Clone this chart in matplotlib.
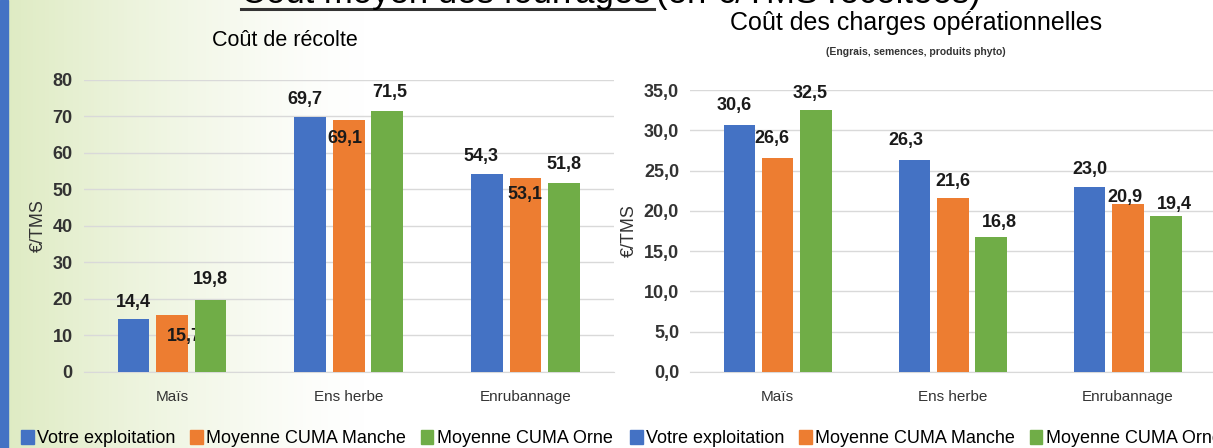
import numpy as np
import matplotlib
matplotlib.use("Agg")
import matplotlib.pyplot as plt
from matplotlib.patches import Rectangle
from matplotlib.lines import Line2D

plt.rcParams['font.family'] = ['Liberation Sans', 'DejaVu Sans']

# data
categories = ["Maïs", "Ens herbe", "Enrubannage"]
series = ["Votre exploitation", "Moyenne CUMA Manche", "Moyenne CUMA Orne"]
recolte_votre = [14.4, 69.7, 54.3]
recolte_manche = [15.7, 69.1, 53.1]
recolte_orne = [19.8, 71.5, 51.8]
charges_votre = [30.6, 26.3, 23.0]
charges_manche = [26.6, 21.6, 20.9]
charges_orne = [32.5, 16.8, 19.4]
colors = ["#4472C4", "#ED7D31", "#70AD47"]

fig = plt.figure(figsize=(12.13, 4.48), dpi=100)

# background: left green wash + blue strip
bg = fig.add_axes([0, 0, 1, 1], zorder=-10)
grad = np.linspace(0, 1, 400)
alpha = np.clip(1 - grad / 0.30, 0, 1) ** 1.3
img = np.ones((10, 400, 3))
green = np.array([0.87, 0.92, 0.76])
for i in range(3):
    img[:, :, i] = 1 - (1 - green[i]) * alpha
bg.imshow(img, aspect="auto", extent=[0, 1, 0, 1])
bg.add_patch(Rectangle((0, 0), 0.007, 1, color="#4472C4"))
bg.set_xlim(0, 1)
bg.set_ylim(0, 1)
bg.axis("off")

# slide title, cut at the top edge (as in the original slide)
fig.text(0.199, 0.994, "Coût moyen des fourrages", ha="left", va="baseline", fontsize=25)
fig.text(0.541, 0.994, "(en €/TMS récoltées)", ha="left", va="baseline", fontsize=25)
fig.add_artist(Line2D([0.199, 0.539], [0.981, 0.981], color="#333333", linewidth=2.2))


def fmt_int(v):
    return "%d" % v if v % 10 == 0 else ("%.1f" % v).replace(".", ",")


def fmt_dec(v):
    return ("%.1f" % v).replace(".", ",")


def draw(ax, vals, ylim, step, fmt, offsets):
    x = np.arange(len(categories))
    w = 0.18
    for k, (v, c) in enumerate(zip(vals, colors)):
        xs = x + (k - 1) * 0.218
        ax.bar(xs, v, w, color=c, label=series[k], zorder=3)
        for j in range(len(x)):
            dx, dy = offsets[k][j]
            ax.annotate(fmt(v[j]), (xs[j], v[j]), xytext=(dx, dy),
                        textcoords="offset points", ha="center", va="bottom",
                        fontsize=13, fontweight="bold", color="#1a1a1a")
    ticks = np.arange(0, ylim + 0.01, step)
    ax.set_xlim(-0.5, 2.5)
    ax.set_ylim(0, ylim)
    ax.set_yticks(ticks)
    ax.set_yticklabels([fmt(t) for t in ticks], fontsize=13, fontweight="bold",
                       color="#333333")
    ax.set_xticks(x)
    ax.set_xticklabels(categories, fontsize=11, color="#333333")
    ax.grid(axis="y", color="#d9d9d9", linewidth=1, zorder=0)
    for s in ["top", "right", "left"]:
        ax.spines[s].set_visible(False)
    ax.spines["bottom"].set_color("#d9d9d9")
    ax.tick_params(axis="y", length=0, pad=8)
    ax.tick_params(axis="x", length=0, pad=13)
    ax.patch.set_alpha(0)


ax1 = fig.add_axes([0.069, 0.170, 0.437, 0.652])
draw(ax1, [recolte_votre, recolte_manche, recolte_orne], 80, 10, fmt_int,
     [[(0, 6), (-4, 7), (-4, 6)],
      [(9, -22), (-3, -20), (0, -18)],
      [(0, 8), (2, 7), (0, 7)]])
ax1.set_ylabel("€/TMS", fontsize=13, color="#333333", labelpad=4)
ax1.set_title("Coût de récolte", fontsize=15.5, pad=24, x=0.38)

ax2 = fig.add_axes([0.569, 0.170, 0.433, 0.629])
draw(ax2, [charges_votre, charges_manche, charges_orne], 35, 5, fmt_dec,
     [[(-4, 8), (-6, 8), (0, 6)],
      [(-4, 8), (0, 6), (-2, -2)],
      [(-4, 6), (6, 4), (6, 2)]])
ax2.set_ylabel("€/TMS", fontsize=13, color="#333333", labelpad=4)
fig.text(0.755, 0.948, "Coût des charges opérationnelles", ha="center", va="center",
         fontsize=18)
fig.text(0.755, 0.885, "(Engrais, semences, produits phyto)", ha="center", va="center",
         fontsize=7.5, fontweight="bold", color="#333333")

handles = [Rectangle((0, 0), 1, 1, color=c) for c in colors]
for xpos in [0.004, 0.506]:
    fig.legend(handles, series, loc="lower left", bbox_to_anchor=(xpos, -0.035), ncol=3,
               frameon=False, fontsize=13, handlelength=0.7, handleheight=0.8,
               handletextpad=0.2, columnspacing=0.8)

fig.savefig("out.png", dpi=100)
